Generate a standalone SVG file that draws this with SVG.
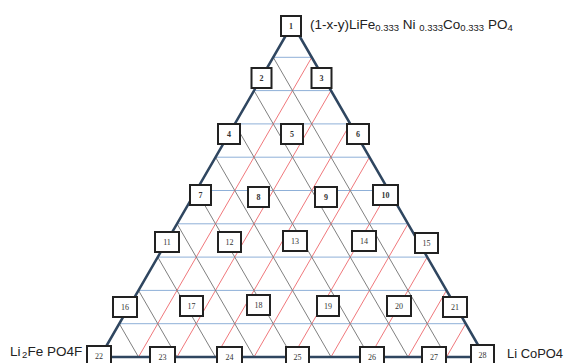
<svg xmlns="http://www.w3.org/2000/svg" width="567" height="363" viewBox="0 0 567 363">
<style>
.bg{fill:#ffffff}
.h{stroke:#8fb0d8;stroke-width:1;fill:none}
.r{stroke:#f0787c;stroke-width:1;fill:none}
.g{stroke:#808080;stroke-width:1;fill:none}
.edge{stroke:#2f4660;stroke-width:2.5;fill:none;stroke-linejoin:round}
.box{fill:#ffffff;stroke:#222222;stroke-width:2}
.num{font-family:"Liberation Serif",serif;font-size:8px;fill:#333333;text-anchor:middle}
.b{font-weight:bold}
.lbl{font-family:"Liberation Sans",Arial,sans-serif;font-size:13.5px;fill:#222222}
.sub{font-size:9.5px}
</style>
<rect class="bg" x="0" y="0" width="567" height="363"/>
<g id="connectors">
<g id="horizontal">
<line class="h" x1="273.25" y1="57.3" x2="311.75" y2="57.3"/>
<line class="h" x1="254" y1="90.6" x2="331" y2="90.6"/>
<line class="h" x1="234.75" y1="123.9" x2="350.25" y2="123.9"/>
<line class="h" x1="215.5" y1="157.2" x2="369.5" y2="157.2"/>
<line class="h" x1="196.25" y1="190.5" x2="388.75" y2="190.5"/>
<line class="h" x1="177" y1="223.8" x2="408" y2="223.8"/>
<line class="h" x1="157.75" y1="257.1" x2="427.25" y2="257.1"/>
<line class="h" x1="138.5" y1="290.4" x2="446.5" y2="290.4"/>
<line class="h" x1="119.25" y1="323.7" x2="465.75" y2="323.7"/>
</g>
<g id="red">
<line class="r" x1="138.5" y1="357" x2="311.75" y2="57.3"/>
<line class="r" x1="177" y1="357" x2="331" y2="90.6"/>
<line class="r" x1="215.5" y1="357" x2="350.25" y2="123.9"/>
<line class="r" x1="254" y1="357" x2="369.5" y2="157.2"/>
<line class="r" x1="292.5" y1="357" x2="388.75" y2="190.5"/>
<line class="r" x1="331" y1="357" x2="408" y2="223.8"/>
<line class="r" x1="369.5" y1="357" x2="427.25" y2="257.1"/>
<line class="r" x1="408" y1="357" x2="446.5" y2="290.4"/>
<line class="r" x1="446.5" y1="357" x2="465.75" y2="323.7"/>
</g>
<g id="gray">
<line class="g" x1="138.5" y1="357" x2="119.25" y2="323.7"/>
<line class="g" x1="177" y1="357" x2="138.5" y2="290.4"/>
<line class="g" x1="215.5" y1="357" x2="157.75" y2="257.1"/>
<line class="g" x1="254" y1="357" x2="177" y2="223.8"/>
<line class="g" x1="292.5" y1="357" x2="196.25" y2="190.5"/>
<line class="g" x1="331" y1="357" x2="215.5" y2="157.2"/>
<line class="g" x1="369.5" y1="357" x2="234.75" y2="123.9"/>
<line class="g" x1="408" y1="357" x2="254" y2="90.6"/>
<line class="g" x1="446.5" y1="357" x2="273.25" y2="57.3"/>
</g>
<polygon id="triangle" class="edge" points="292.5,24 485,357 100,357"/>
</g>
<g id="n1"><rect class="box" x="281" y="16" width="20" height="20"/><text class="num b" x="291" y="29">1</text></g>
<g id="n2"><rect class="box" x="251.5" y="68" width="20" height="20"/><text class="num b" x="261.5" y="81">2</text></g>
<g id="n3"><rect class="box" x="311.5" y="68" width="20" height="20"/><text class="num b" x="321.5" y="81">3</text></g>
<g id="n4"><rect class="box" x="218" y="124" width="22" height="20"/><text class="num b" x="229" y="137">4</text></g>
<g id="n5"><rect class="box" x="281" y="124" width="22" height="20"/><text class="num b" x="292" y="137">5</text></g>
<g id="n6"><rect class="box" x="347" y="124" width="22" height="20"/><text class="num b" x="358" y="137">6</text></g>
<g id="n7"><rect class="box" x="190" y="185" width="21" height="20"/><text class="num b" x="200.5" y="198">7</text></g>
<g id="n8"><rect class="box" x="248" y="187" width="21" height="20"/><text class="num b" x="258.5" y="200">8</text></g>
<g id="n9"><rect class="box" x="315" y="187" width="22" height="20"/><text class="num b" x="326" y="200">9</text></g>
<g id="n10"><rect class="box" x="373" y="185" width="25" height="20"/><text class="num b" x="385.5" y="198">10</text></g>
<g id="n11"><rect class="box" x="155" y="232" width="24" height="20"/><text class="num" x="167" y="245">11</text></g>
<g id="n12"><rect class="box" x="218" y="232" width="23" height="20"/><text class="num" x="229.5" y="245">12</text></g>
<g id="n13"><rect class="box" x="283" y="231" width="24" height="20"/><text class="num" x="295" y="244">13</text></g>
<g id="n14"><rect class="box" x="352" y="231" width="24" height="20"/><text class="num" x="364" y="244">14</text></g>
<g id="n15"><rect class="box" x="415" y="233" width="23" height="20"/><text class="num" x="426.5" y="246">15</text></g>
<g id="n16"><rect class="box" x="113" y="297" width="24" height="20"/><text class="num" x="125" y="310">16</text></g>
<g id="n17"><rect class="box" x="180" y="296" width="23" height="20"/><text class="num" x="191.5" y="309">17</text></g>
<g id="n18"><rect class="box" x="247" y="295" width="23" height="20"/><text class="num" x="258.5" y="308">18</text></g>
<g id="n19"><rect class="box" x="317" y="296" width="22" height="20"/><text class="num" x="328" y="309">19</text></g>
<g id="n20"><rect class="box" x="387" y="296" width="24" height="20"/><text class="num" x="399" y="309">20</text></g>
<g id="n21"><rect class="box" x="443" y="297" width="24" height="20"/><text class="num" x="455" y="310">21</text></g>
<g id="n22"><rect class="box" x="87" y="346" width="24" height="21"/><text class="num" x="99" y="359">22</text></g>
<g id="n23"><rect class="box" x="150" y="347" width="25" height="21"/><text class="num" x="162.5" y="360">23</text></g>
<g id="n24"><rect class="box" x="217" y="347" width="25" height="21"/><text class="num" x="229.5" y="360">24</text></g>
<g id="n25"><rect class="box" x="286" y="347" width="23" height="21"/><text class="num" x="297.5" y="360">25</text></g>
<g id="n26"><rect class="box" x="360" y="347" width="24" height="21"/><text class="num" x="372" y="360">26</text></g>
<g id="n27"><rect class="box" x="422" y="347" width="24" height="21"/><text class="num" x="434" y="360">27</text></g>
<g id="n28"><rect class="box" x="471" y="345" width="23" height="21"/><text class="num" x="482.5" y="358">28</text></g>
<g id="label-top"><text class="lbl" x="310" y="28.5">(1-x-y)LiFe<tspan class="sub" dy="2">0.333</tspan><tspan dy="-2"> Ni </tspan><tspan class="sub" dy="2">0.333</tspan><tspan dy="-2">Co</tspan><tspan class="sub" dy="2">0.333</tspan><tspan dy="-2"> PO</tspan><tspan class="sub" dy="2">4</tspan></text></g>
<g id="label-left"><text class="lbl" y="356"><tspan x="10">Li</tspan><tspan class="sub" x="22" y="358">2</tspan><tspan x="27.5" y="356">Fe PO4F</tspan></text></g>
<g id="label-right"><text class="lbl" x="507" y="358" textLength="56" lengthAdjust="spacingAndGlyphs">Li CoPO4</text></g>
</svg>
